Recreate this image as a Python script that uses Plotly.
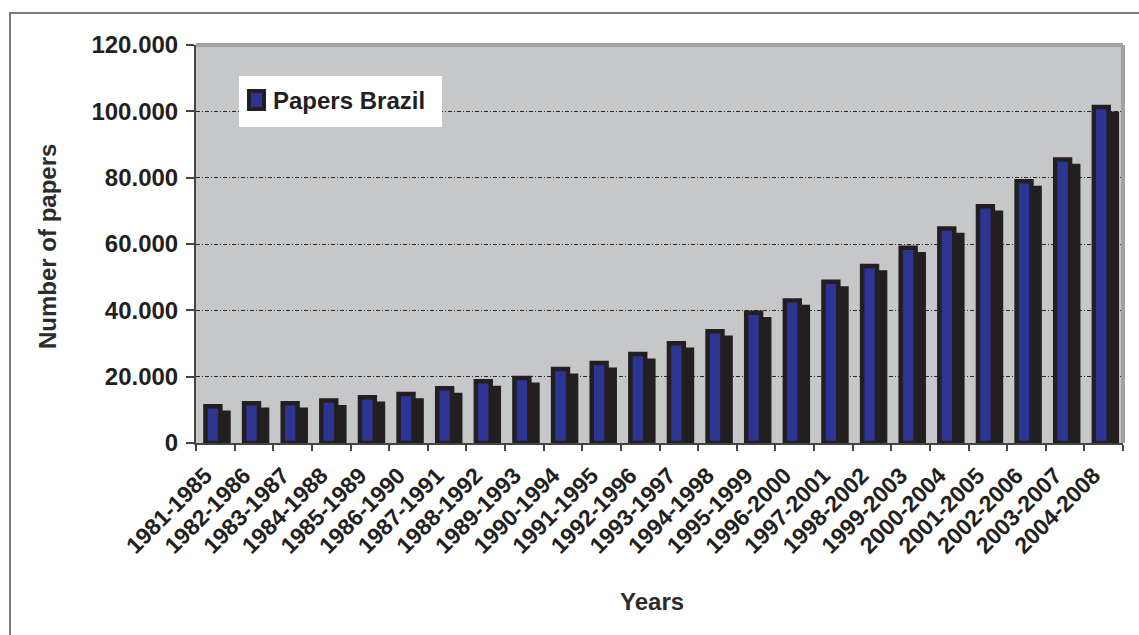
import plotly.graph_objects as go

# Five-year windows and the number of papers published by Brazil in each
periods = [
    "1981-1985", "1982-1986", "1983-1987", "1984-1988", "1985-1989",
    "1986-1990", "1987-1991", "1988-1992", "1989-1993", "1990-1994",
    "1991-1995", "1992-1996", "1993-1997", "1994-1998", "1995-1999",
    "1996-2000", "1997-2001", "1998-2002", "1999-2003", "2000-2004",
    "2001-2005", "2002-2006", "2003-2007", "2004-2008",
]
papers = [
    11100, 12000, 12000, 12800, 13800,
    14800, 16500, 18600, 19600, 22300,
    24100, 26800, 30100, 33700, 39300,
    43000, 48600, 53400, 58900, 64700,
    71400, 78900, 85500, 101300,
]
series_name = "Papers Brazil"
y_ticks = [0, 20000, 40000, 60000, 80000, 100000, 120000]

BLUE = "#2c3593"
INK = "#231f20"
PANEL = "#c6c7c9"
FONT = "Liberation Sans, Arial, sans-serif"

bar_w = 0.385          # width of each bar in category units
front_offset = -0.255  # left edge of the blue bar relative to category centre
shadow_dx = 0.21       # shadow shifted right (category units)
shadow_dy = 2000       # shadow shifted down (data units)

fig = go.Figure()

# drop shadow behind each bar
fig.add_trace(go.Bar(
    x=periods, y=papers, base=[-shadow_dy] * len(papers),
    width=bar_w, offset=front_offset + shadow_dx,
    marker=dict(color=INK, line=dict(color=INK, width=4.5)),
    showlegend=False, hoverinfo="skip",
))
# the bars themselves
fig.add_trace(go.Bar(
    x=periods, y=papers, name=series_name,
    width=bar_w, offset=front_offset,
    marker=dict(color=BLUE, line=dict(color=INK, width=4.5)),
    showlegend=False,
))

W, H = 1139, 635
L, R, T, B = 196, 16, 45, 192
pw, ph = W - L - R, H - T - B


def px_x(x):
    return (x - L) / pw


def px_y(y):
    return (H - B - y) / ph


shapes = [
    # outer frame of the figure
    dict(type="rect", xref="paper", yref="paper",
         x0=px_x(10), x1=px_x(1160), y0=px_y(660), y1=px_y(13),
         line=dict(color="#7a7a7a", width=2), layer="below"),
    # raised top / right edge of the plot panel
    dict(type="line", xref="paper", yref="paper", x0=0, x1=1, y0=1, y1=1,
         line=dict(color="#a2a2a2", width=4), layer="above"),
    dict(type="line", xref="paper", yref="paper", x0=1, x1=1, y0=0, y1=1,
         line=dict(color="#a2a2a2", width=4), layer="above"),
    # legend box and swatch
    dict(type="rect", xref="paper", yref="paper",
         x0=px_x(239), x1=px_x(442), y0=px_y(127), y1=px_y(76),
         fillcolor="white", line=dict(width=0), layer="above"),
    dict(type="rect", xref="paper", yref="paper",
         x0=px_x(249), x1=px_x(264), y0=px_y(109), y1=px_y(91),
         fillcolor=BLUE, line=dict(color=INK, width=4), layer="above"),
]

annotations = [
    dict(text=series_name, xref="paper", yref="paper",
         x=px_x(271), y=px_y(100), xanchor="left", yanchor="middle",
         showarrow=False, font=dict(family=FONT, size=24, color=INK, weight="bold")),
    dict(text="Number of papers", xref="paper", yref="paper",
         x=px_x(47), y=px_y(247), xanchor="center", yanchor="middle",
         textangle=-90, showarrow=False,
         font=dict(family=FONT, size=24, color="#2b2b2b", weight="bold")),
    dict(text="Years", xref="paper", yref="paper",
         x=px_x(652), y=px_y(601), xanchor="center", yanchor="middle",
         showarrow=False, font=dict(family=FONT, size=24, color="#2b2b2b", weight="bold")),
]

fig.update_layout(
    width=W, height=H,
    margin=dict(l=L, r=R, t=T, b=B, pad=0),
    paper_bgcolor="white", plot_bgcolor=PANEL,
    barmode="overlay",
    separators=",.",
    font=dict(family=FONT, color=INK),
    shapes=shapes, annotations=annotations,
    showlegend=False,
)

fig.update_xaxes(
    type="category",
    tickangle=-45,
    tickfont=dict(family=FONT, size=23, color=INK, weight="bold"),
    ticks="outside", tickson="boundaries", ticklen=6, tickcolor="#444", tickwidth=1.5,
    ticklabelstandoff=8, ticklabelshift=-10,
    showline=True, linecolor="#444", linewidth=2,
    showgrid=False, zeroline=False,
)
fig.update_yaxes(
    range=[0, 120000],
    tickvals=y_ticks, tickformat=",d",
    tickfont=dict(family=FONT, size=24, color=INK, weight="bold"),
    ticks="outside", ticklen=8, tickcolor="#444", tickwidth=1.5,
    ticklabelstandoff=3,
    showline=True, linecolor="#444", linewidth=2,
    showgrid=True, gridcolor="#2a2a2a", gridwidth=1, griddash="4px,2px,1px,2px",
    zeroline=False,
)

fig.write_html("out.html")
